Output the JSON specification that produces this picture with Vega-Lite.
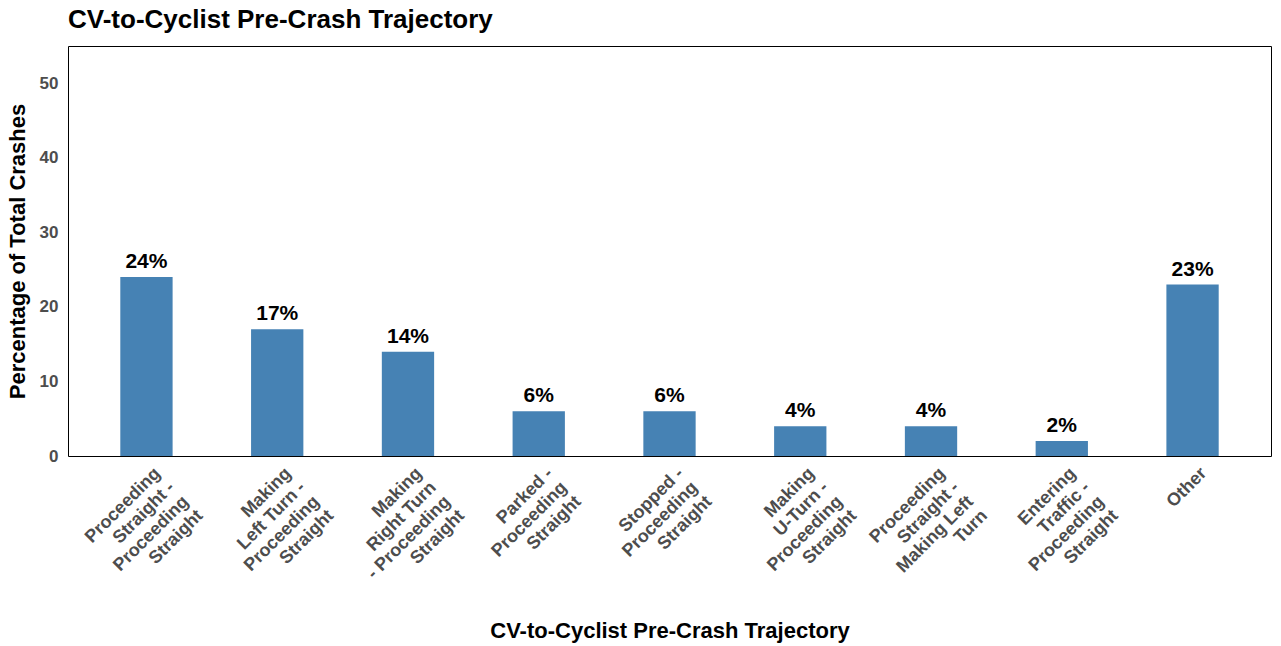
{
  "$schema": "https://vega.github.io/schema/vega-lite/v6.json",
  "width": 1203,
  "height": 410,
  "autosize": {"type": "none"},
  "padding": {"left": 68, "top": 46, "right": 10, "bottom": 190},
  "background": "white",
  "title": {
    "text": "CV-to-Cyclist Pre-Crash Trajectory",
    "anchor": "start",
    "frame": "group",
    "font": "Liberation Sans",
    "fontSize": 26,
    "fontWeight": "bold",
    "color": "black",
    "offset": 13
  },
  "config": {
    "view": {"stroke": "black", "strokeWidth": 1},
    "font": "Liberation Sans"
  },
  "data": {
    "values": [
      {"trajectory": "Proceeding\nStraight -\nProceeding\nStraight", "pct": 24},
      {"trajectory": "Making\nLeft Turn -\nProceeding\nStraight", "pct": 17},
      {"trajectory": "Making\nRight Turn\n- Proceeding\nStraight", "pct": 14},
      {"trajectory": "Parked -\nProceeding\nStraight", "pct": 6},
      {"trajectory": "Stopped -\nProceeding\nStraight", "pct": 6},
      {"trajectory": "Making\nU-Turn -\nProceeding\nStraight", "pct": 4},
      {"trajectory": "Proceeding\nStraight -\nMaking Left\nTurn", "pct": 4},
      {"trajectory": "Entering\nTraffic -\nProceeding\nStraight", "pct": 2},
      {"trajectory": "Other", "pct": 23}
    ]
  },
  "encoding": {
    "x": {
      "field": "trajectory",
      "type": "nominal",
      "sort": null,
      "scale": {"paddingInner": 0.6, "paddingOuter": 0.4},
      "axis": {
        "title": "CV-to-Cyclist Pre-Crash Trajectory",
        "titleFont": "Liberation Sans",
        "titleFontSize": 22,
        "titleFontWeight": "bold",
        "titleColor": "black",
        "titlePadding": 24,
        "labelExpr": "split(datum.label, '\\n')",
        "labelAngle": -45,
        "labelAlign": "right",
        "labelBaseline": "top",
        "labelFont": "Liberation Sans",
        "labelFontSize": 18,
        "labelFontWeight": "bold",
        "labelColor": "#4D4D4D",
        "labelLineHeight": 20,
        "labelPadding": 8,
        "labelOffset": 5,
        "ticks": false,
        "domain": false,
        "grid": false,
        "labelLimit": 0
      }
    },
    "y": {
      "field": "pct",
      "type": "quantitative",
      "scale": {"domain": [0, 55], "nice": false},
      "axis": {
        "title": "Percentage of Total Crashes",
        "titleFont": "Liberation Sans",
        "titleFontSize": 22,
        "titleFontWeight": "bold",
        "titleColor": "black",
        "titlePadding": 10,
        "values": [0, 10, 20, 30, 40, 50],
        "labelFont": "Liberation Sans",
        "labelFontSize": 17,
        "labelFontWeight": "bold",
        "labelColor": "#4D4D4D",
        "labelPadding": 10,
        "ticks": false,
        "domain": false,
        "grid": false
      }
    }
  },
  "layer": [
    {"mark": {"type": "bar", "color": "#4682B4"}},
    {
      "mark": {
        "type": "text",
        "text": {"expr": "datum.pct + '%'"},
        "baseline": "alphabetic",
        "dy": -9,
        "font": "Liberation Sans",
        "fontSize": 21,
        "fontWeight": "bold",
        "color": "black"
      }
    }
  ]
}
